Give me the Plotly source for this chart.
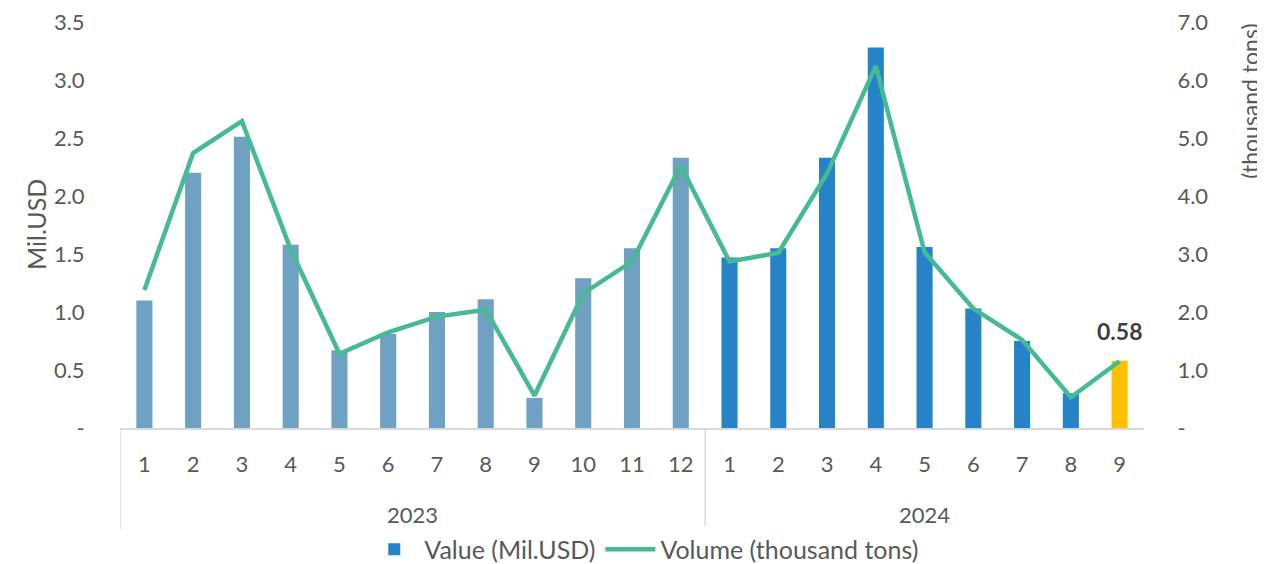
import plotly.graph_objects as go

# ---------------------------- DONNÉES ----------------------------- #
years = ["2023", "2024"]
months_2023 = ["1", "2", "3", "4", "5", "6", "7", "8", "9", "10", "11", "12"]
months_2024 = ["1", "2", "3", "4", "5", "6", "7", "8", "9"]

value_2023 = [1.10, 2.20, 2.51, 1.58, 0.67, 0.81, 1.00, 1.11, 0.26, 1.29, 1.55, 2.33]
value_2024 = [1.47, 1.55, 2.33, 3.28, 1.56, 1.03, 0.75, 0.30, 0.58]

volume_2023 = [2.38, 4.74, 5.29, 3.08, 1.28, 1.65, 1.92, 2.04, 0.56, 2.32, 2.87, 4.52]
volume_2024 = [2.87, 3.02, 4.39, 6.24, 3.03, 2.06, 1.52, 0.53, 1.15]

left_ticks = [0, 0.5, 1.0, 1.5, 2.0, 2.5, 3.0, 3.5]
right_ticks = [0, 1, 2, 3, 4, 5, 6, 7]

# ---------------------------- STYLE ----------------------------- #
FONT = "Lato"
TXT = "#595959"
GRIS = "#D9D9D9"
C_2023 = "#6FA1C2"
C_2024 = "#2783C7"
C_LAST = "#FFC000"
C_LINE = "#45BA94"
FS = 22

months = months_2023 + months_2024
values = value_2023 + value_2024
volumes = volume_2023 + volume_2024
idx = list(range(len(months)))
n23 = len(months_2023)
last = len(months) - 1

fig = go.Figure()

# Barres 2023
fig.add_trace(go.Bar(
    x=idx[:n23], y=value_2023, width=0.33,
    marker=dict(color=C_2023, line=dict(width=0)),
    name="Value 2023", showlegend=False, hoverinfo="y"
))
# Barres 2024 (hors dernier mois)
fig.add_trace(go.Bar(
    x=idx[n23:last], y=values[n23:last], width=0.33,
    marker=dict(color=C_2024, line=dict(width=0)),
    name="Value (Mil.USD)", showlegend=True, hoverinfo="y"
))
# Dernier mois mis en évidence
fig.add_trace(go.Bar(
    x=[idx[last]], y=[values[last]], width=0.33,
    marker=dict(color=C_LAST, line=dict(width=0)),
    name="Latest", showlegend=False, hoverinfo="y"
))
# Volume (axe secondaire)
fig.add_trace(go.Scatter(
    x=idx, y=volumes, yaxis="y2", mode="lines",
    line=dict(color=C_LINE, width=4.5),
    name="Volume (thousand tons)"
))

# La page ajoute une marge de 8 px autour de la figure : on compense
fig.update_layout(
    width=1257, height=556,
    margin=dict(l=112, r=121, t=14, b=135.5, autoexpand=False),
    paper_bgcolor="white", plot_bgcolor="white",
    barmode="overlay",
    font=dict(family=FONT, size=FS, color=TXT),
    xaxis=dict(
        range=[-0.5, len(months) - 0.5],
        tickvals=idx, ticktext=months,
        showgrid=False, zeroline=False, automargin=False,
        showline=True, linecolor=GRIS, linewidth=1.5,
        ticks="outside", ticklen=16, tickcolor="rgba(0,0,0,0)",
        tickfont=dict(size=FS, color=TXT),
    ),
    yaxis=dict(
        range=[0, 3.5],
        tickvals=left_ticks,
        ticktext=["-" if v == 0 else f"{v:.1f}" for v in left_ticks],
        showgrid=False, zeroline=False, showline=False, automargin=False,
        ticks="outside", ticklen=30, tickcolor="rgba(0,0,0,0)",
        ticklabeloverflow="allow",
        tickfont=dict(size=FS, color=TXT),
    ),
    yaxis2=dict(
        range=[0, 7], overlaying="y", side="right",
        tickvals=right_ticks,
        ticktext=["-" if v == 0 else f"{v:.1f}" for v in right_ticks],
        showgrid=False, zeroline=False, showline=False, automargin=False,
        ticks="outside", ticklen=28, tickcolor="rgba(0,0,0,0)",
        ticklabeloverflow="allow",
        tickfont=dict(size=FS, color=TXT),
    ),
    legend=dict(
        orientation="h", xref="paper", yref="paper",
        x=0.512, y=-0.299, xanchor="center", yanchor="middle",
        font=dict(size=25, color=TXT), traceorder="normal",
        itemwidth=50, tracegroupgap=0,
    ),
    showlegend=True,
)

# Séparateurs des années (axe multi-niveaux)
for xpos in [-0.5, n23 - 0.5]:
    fig.add_shape(type="line", xref="x", yref="paper",
                  x0=xpos, x1=xpos, y0=0, y1=-0.25,
                  line=dict(color=GRIS, width=1.5))

# Libellés des années
groups = [(years[0], 0, n23 - 1), (years[1], n23, last)]
for label, a, b in groups:
    fig.add_annotation(x=(a + b) / 2, y=0, xref="x", yref="paper",
                       text=label, showarrow=False, yshift=-86,
                       yanchor="middle", font=dict(size=FS, color=TXT))

# Étiquette du dernier mois
fig.add_annotation(x=idx[last], y=values[last], xref="x", yref="y",
                   text=f"<b>{values[last]:.2f}</b>", showarrow=False,
                   yanchor="bottom", yshift=14,
                   font=dict(size=23, color="#404040"))

# Titres des axes
fig.add_annotation(xref="paper", yref="paper", x=-0.082, y=0.5,
                   xanchor="center", yanchor="middle",
                   text="Mil.USD", showarrow=False, textangle=-90,
                   font=dict(size=25, color=TXT))
fig.add_annotation(xref="paper", yref="paper", x=1.1035, y=0.806,
                   xanchor="center", yanchor="middle",
                   text="(thousand tons)", showarrow=False, textangle=-90,
                   font=dict(size=23, color=TXT))

fig.write_html("out.html")
